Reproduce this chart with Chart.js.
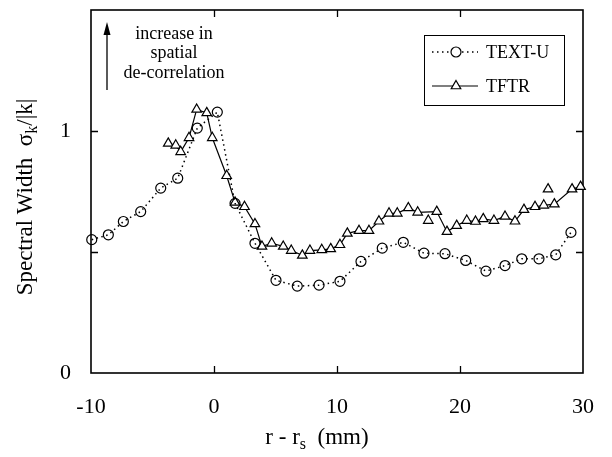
<!DOCTYPE html>
<html>
<head>
<meta charset="utf-8">
<script src="https://cdn.jsdelivr.net/npm/chart.js@4.4.1/dist/chart.umd.min.js"></script>
<style>
  html, body { margin: 0; padding: 0; background: #fff; }
  #wrap { width: 612px; height: 457px; }
</style>
</head>
<body>
<div id="wrap"><canvas id="c" width="612" height="457"></canvas></div>
<script>
// ---- data ----
const textU_r = [-9.94,-8.59,-7.37,-5.96,-4.33,-2.95,-1.36,0.27,1.71,3.33,5.04,6.77,8.54,10.24,11.95,13.68,15.39,17.07,18.78,20.46,22.11,23.66,25.02,26.42,27.78,29.02];
const textU_w = [0.551,0.571,0.626,0.667,0.764,0.805,1.012,1.078,0.701,0.536,0.383,0.359,0.363,0.379,0.461,0.516,0.540,0.495,0.493,0.465,0.421,0.444,0.472,0.472,0.488,0.581];

const tftr_r = [-3.72,-3.11,-2.71,-2.03,-1.41,-0.59,-0.14,1.03,1.71,2.48,3.33,3.9,4.69,5.63,6.28,7.18,7.80,8.76,9.49,10.24,10.84,11.79,12.60,13.41,14.23,14.90,15.80,16.56,18.11,18.94,19.73,20.55,21.26,21.89,22.76,23.66,24.47,25.20,26.10,26.81,27.67,29.11,29.8];
const tftr_w = [0.949,0.941,0.914,0.972,1.089,1.075,0.972,0.815,0.705,0.687,0.616,0.523,0.536,0.523,0.506,0.486,0.506,0.509,0.513,0.530,0.577,0.588,0.588,0.627,0.660,0.660,0.682,0.664,0.667,0.584,0.609,0.630,0.626,0.637,0.630,0.647,0.627,0.675,0.687,0.693,0.698,0.760,0.770];

// TFTR points not joined by the line
const tftrLoose_r = [17.42, 27.16];
const tftrLoose_w = [0.630, 0.760];

const xTickValues = [-10, 0, 10, 20, 30];
const xTickMarks = [0, 10, 20];
const yTickLabels = [0, 1];
const yTickMarks = [0.5, 1];
const seriesNames = ['TEXT-U', 'TFTR'];
const annotationLines = ['increase in', 'spatial', 'de-correlation'];
const xTitleParts = ['r - r', 's', '  (mm)'];
const yTitleParts = ['Spectral Width  σ', 'k', '/|k|'];

const toPts = (xs, ys) => xs.map((x, i) => ({x: x, y: ys[i]}));

const SERIF = '"Liberation Serif", "Times New Roman", serif';

function drawTriangle(ctx, x, y, r) {
  ctx.beginPath();
  let rad = 0;
  ctx.moveTo(x + Math.sin(rad) * r, y - Math.cos(rad) * r);
  rad += 2 * Math.PI / 3;
  ctx.lineTo(x + Math.sin(rad) * r, y - Math.cos(rad) * r);
  rad += 2 * Math.PI / 3;
  ctx.lineTo(x + Math.sin(rad) * r, y - Math.cos(rad) * r);
  ctx.closePath();
}

// text with a subscript piece, centred on (0,0) along the baseline direction
function drawSubText(ctx, parts, size, subSize, subDrop) {
  ctx.font = size + 'px ' + SERIF;
  const w0 = ctx.measureText(parts[0]).width;
  const w2 = ctx.measureText(parts[2]).width;
  ctx.font = subSize + 'px ' + SERIF;
  const w1 = ctx.measureText(parts[1]).width;
  const total = w0 + w1 + w2;
  let x = -total / 2;
  ctx.textAlign = 'left';
  ctx.textBaseline = 'alphabetic';
  const base = size * 0.33;
  ctx.font = size + 'px ' + SERIF;
  ctx.fillText(parts[0], x, base); x += w0;
  ctx.font = subSize + 'px ' + SERIF;
  ctx.fillText(parts[1], x, base + subDrop); x += w1;
  ctx.font = size + 'px ' + SERIF;
  ctx.fillText(parts[2], x, base);
}

const decorPlugin = {
  id: 'decor',
  beforeDatasetsDraw(chart) {
    const {ctx, chartArea: a, scales: {x, y}} = chart;
    ctx.save();
    ctx.strokeStyle = '#000';
    ctx.fillStyle = '#000';
    ctx.lineWidth = 1.6;
    ctx.strokeRect(a.left, a.top, a.right - a.left, a.bottom - a.top);
    ctx.lineWidth = 1.3;
    ctx.beginPath();
    xTickMarks.forEach(v => {
      const px = Math.round(x.getPixelForValue(v)) + 0.5;
      ctx.moveTo(px, a.bottom); ctx.lineTo(px, a.bottom - 7);
      ctx.moveTo(px, a.top); ctx.lineTo(px, a.top + 7);
    });
    yTickMarks.forEach(v => {
      const py = Math.round(y.getPixelForValue(v)) + 0.5;
      ctx.moveTo(a.left, py); ctx.lineTo(a.left + 7, py);
      ctx.moveTo(a.right, py); ctx.lineTo(a.right - 7, py);
    });
    ctx.stroke();

    // axis titles
    ctx.save();
    ctx.translate(317, 436);
    drawSubText(ctx, xTitleParts, 23, 16, 5);
    ctx.restore();
    ctx.save();
    ctx.translate(24, 197);
    ctx.rotate(-Math.PI / 2);
    drawSubText(ctx, yTitleParts, 23, 16, 5);
    ctx.restore();

    // annotation arrow + text
    ctx.lineWidth = 1.3;
    ctx.beginPath();
    ctx.moveTo(107, 90); ctx.lineTo(107, 32);
    ctx.stroke();
    ctx.beginPath();
    ctx.moveTo(107, 22); ctx.lineTo(103.5, 35); ctx.lineTo(110.5, 35); ctx.closePath();
    ctx.fill();
    ctx.font = '18px ' + SERIF;
    ctx.textAlign = 'center';
    ctx.textBaseline = 'middle';
    annotationLines.forEach((t, i) => ctx.fillText(t, 174, 34 + i * 19.5));

    // legend
    ctx.lineWidth = 1;
    ctx.strokeRect(424.5, 35.5, 140, 70);
    ctx.lineWidth = 1.5;
    ctx.setLineDash([1.5, 3.5]);
    ctx.beginPath(); ctx.moveTo(432, 52); ctx.lineTo(478, 52); ctx.stroke();
    ctx.setLineDash([]);
    ctx.lineWidth = 1.2;
    ctx.fillStyle = '#fff';
    ctx.beginPath(); ctx.arc(456, 52, 5, 0, 2 * Math.PI); ctx.fill(); ctx.stroke();
    ctx.beginPath(); ctx.moveTo(432, 86); ctx.lineTo(478, 86); ctx.stroke();
    drawTriangle(ctx, 456, 86, 5.5); ctx.fill(); ctx.stroke();
    ctx.fillStyle = '#000';
    ctx.font = '18px ' + SERIF;
    ctx.textAlign = 'left';
    ctx.textBaseline = 'middle';
    ctx.fillText(seriesNames[0], 486, 53);
    ctx.fillText(seriesNames[1], 486, 87);
    ctx.restore();
  }
};

new Chart(document.getElementById('c'), {
  type: 'scatter',
  data: {
    datasets: [
      {
        label: seriesNames[0],
        data: toPts(textU_r, textU_w),
        showLine: true,
        borderColor: '#000',
        borderWidth: 1.5,
        borderDash: [1.5, 3.5],
        tension: 0,
        pointStyle: 'circle',
        pointRadius: 5,
        pointBorderWidth: 1.2,
        pointBorderColor: '#000',
        pointBackgroundColor: 'rgba(0,0,0,0)',
        clip: false
      },
      {
        label: seriesNames[1],
        data: toPts(tftr_r, tftr_w),
        showLine: true,
        borderColor: '#000',
        borderWidth: 1.2,
        tension: 0,
        pointStyle: 'triangle',
        pointRadius: 5.5,
        pointBorderWidth: 1.2,
        pointBorderColor: '#000',
        pointBackgroundColor: '#fff',
        clip: false
      },
      {
        label: seriesNames[1] + ' (unjoined)',
        data: toPts(tftrLoose_r, tftrLoose_w),
        showLine: false,
        pointStyle: 'triangle',
        pointRadius: 5.5,
        pointBorderWidth: 1.2,
        pointBorderColor: '#000',
        pointBackgroundColor: '#fff',
        clip: false
      }
    ]
  },
  options: {
    responsive: false,
    animation: false,
    events: [],
    layout: { padding: { top: 10, right: 29, left: 0, bottom: 0 } },
    plugins: { legend: { display: false }, tooltip: { enabled: false } },
    scales: {
      x: {
        type: 'linear',
        min: -10, max: 30,
        afterBuildTicks: s => { s.ticks = xTickValues.map(v => ({value: v})); },
        afterFit: s => { s.height = 84; s.paddingLeft = 0; s.paddingRight = 0; s.paddingTop = 0; s.paddingBottom = 0; },
        grid: { display: false, drawTicks: false },
        border: { display: false },
        ticks: { color: '#000', font: { family: SERIF, size: 22 }, padding: 21, maxRotation: 0 },
        title: { display: false }
      },
      y: {
        type: 'linear',
        min: 0, max: 1.5,
        afterBuildTicks: s => { s.ticks = yTickLabels.map(v => ({value: v})); },
        afterFit: s => { s.width = 91; s.paddingTop = 0; s.paddingBottom = 0; s.paddingLeft = 0; s.paddingRight = 0; },
        grid: { display: false, drawTicks: false },
        border: { display: false },
        ticks: { color: '#000', font: { family: SERIF, size: 22 }, padding: 20 },
        title: { display: false }
      }
    }
  },
  plugins: [decorPlugin]
});
</script>
</body>
</html>
